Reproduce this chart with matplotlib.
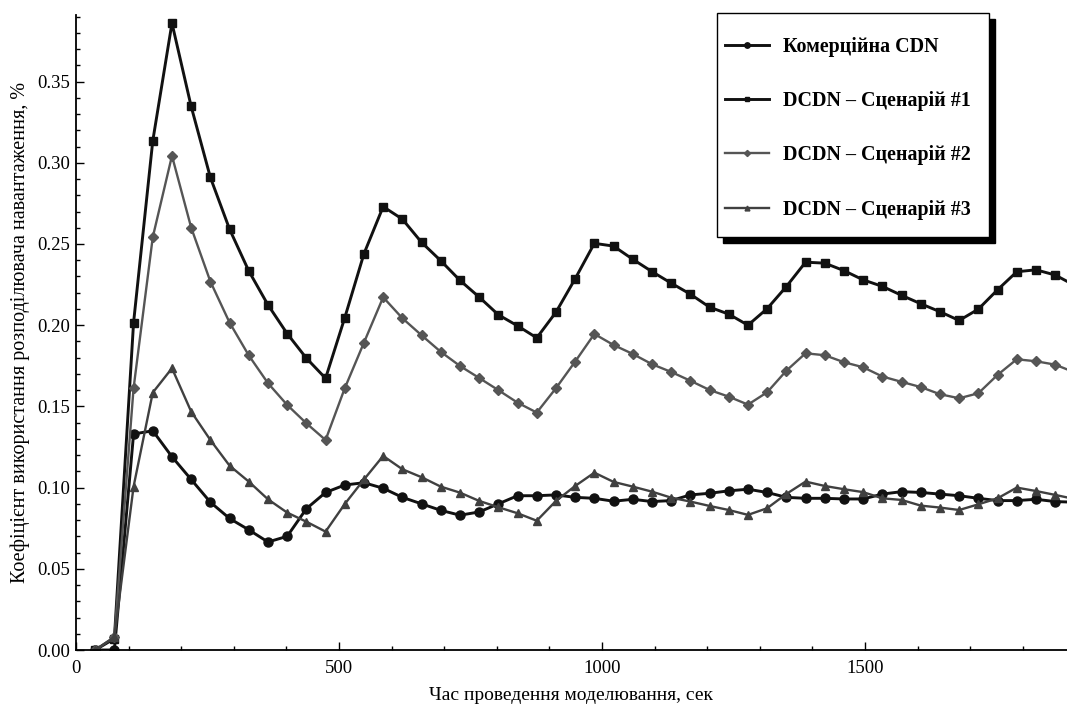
import matplotlib
matplotlib.use("Agg")
import matplotlib.pyplot as plt
import matplotlib.ticker as mticker
from matplotlib.patches import Rectangle

plt.rcParams["font.family"] = ["Liberation Serif", "DejaVu Serif"]

# Data
time_s = [36.5, 73, 109.5, 146, 182.5, 219, 255.5, 292, 328.5, 365,
          401.5, 438, 474.5, 511, 547.5, 584, 620.5, 657, 693.5, 730,
          766.5, 803, 839.5, 876, 912.5, 949, 985.5, 1022, 1058.5, 1095,
          1131.5, 1168, 1204.5, 1241, 1277.5, 1314, 1350.5, 1387, 1423.5, 1460,
          1496.5, 1533, 1569.5, 1606, 1642.5, 1679, 1715.5, 1752, 1788.5, 1825,
          1861.5, 1898]

cdn = [0.0, 0.0, 0.133, 0.135, 0.119, 0.105, 0.091, 0.081, 0.074, 0.0665,
       0.070, 0.087, 0.097, 0.1016, 0.103, 0.0996, 0.094, 0.090, 0.086, 0.083,
       0.085, 0.090, 0.095, 0.095, 0.0955, 0.094, 0.0934, 0.0916, 0.0928, 0.0914,
       0.092, 0.0955, 0.0965, 0.098, 0.099, 0.097, 0.094, 0.0934, 0.0934, 0.093,
       0.093, 0.096, 0.0975, 0.097, 0.096, 0.095, 0.0934, 0.092, 0.092, 0.0928,
       0.0914, 0.091]

scen1 = [0.0, 0.007, 0.2016, 0.3135, 0.386, 0.3347, 0.291, 0.2591, 0.2334, 0.2125,
         0.1948, 0.1797, 0.1673, 0.2046, 0.244, 0.273, 0.2653, 0.251, 0.2397, 0.2276,
         0.2173, 0.2064, 0.1996, 0.1922, 0.208, 0.2286, 0.2504, 0.2487, 0.2406, 0.233,
         0.2259, 0.2191, 0.2111, 0.2068, 0.200, 0.2102, 0.2238, 0.2388, 0.2382, 0.2336,
         0.2279, 0.2239, 0.2184, 0.2132, 0.2083, 0.2029, 0.2099, 0.2218, 0.2329, 0.2341,
         0.2309, 0.2246]

scen2 = [0.0, 0.008, 0.1612, 0.2542, 0.3043, 0.2601, 0.2269, 0.2016, 0.1814, 0.1643,
         0.1509, 0.1396, 0.1293, 0.1612, 0.1893, 0.2172, 0.2043, 0.1938, 0.1836, 0.1749,
         0.1675, 0.160, 0.1523, 0.1462, 0.1612, 0.1776, 0.1946, 0.1878, 0.1823, 0.176,
         0.1712, 0.1658, 0.1601, 0.156, 0.1511, 0.1587, 0.172, 0.1827, 0.1815, 0.1772,
         0.1741, 0.1684, 0.1651, 0.1619, 0.1575, 0.155, 0.1581, 0.1694, 0.179, 0.1778,
         0.1757, 0.171]

scen3 = [0.0, 0.008, 0.1006, 0.1585, 0.1735, 0.1468, 0.1293, 0.1135, 0.1037, 0.0928,
         0.0846, 0.079, 0.0729, 0.0899, 0.105, 0.1195, 0.1113, 0.1064, 0.1006, 0.0969,
         0.0918, 0.0879, 0.0842, 0.0796, 0.0918, 0.101, 0.1092, 0.1035, 0.1006, 0.0975,
         0.0938, 0.0914, 0.0887, 0.0862, 0.0832, 0.0873, 0.0961, 0.1037, 0.101, 0.099,
         0.0972, 0.0934, 0.0924, 0.0889, 0.0877, 0.0862, 0.0897, 0.0934, 0.100, 0.0979,
         0.0955, 0.093]

labels = ["Комерційна CDN", "DCDN – Сценарій #1", "DCDN – Сценарій #2", "DCDN – Сценарій #3"]

fig = plt.figure(figsize=(10.67, 7.04), dpi=100)
ax = fig.add_axes([0.0712, 0.0767, 0.9288, 0.902])

# series: values, marker, colour, line width, marker size
styles = [
    (cdn, "o", "#111111", 2.1, 6.5),
    (scen1, "s", "#111111", 2.1, 5.8),
    (scen2, "D", "#555555", 1.7, 5.2),
    (scen3, "^", "#404040", 1.7, 5.8),
]
handles = []
for (vals, mk, col, lw, ms), lab in zip(styles, labels):
    h, = ax.plot(time_s, vals, marker=mk, color=col, lw=lw, ms=ms,
                 mec=col, mfc=col, label=lab)
    handles.append(h)

ax.set_xlim(0, 1884)
ax.set_ylim(0, 0.391)

ax.xaxis.set_major_locator(mticker.MultipleLocator(500))
ax.xaxis.set_minor_locator(mticker.MultipleLocator(100))
ax.yaxis.set_major_locator(mticker.MultipleLocator(0.05))
ax.yaxis.set_minor_locator(mticker.MultipleLocator(0.01))
ax.yaxis.set_major_formatter(mticker.FormatStrFormatter("%.2f"))

for s in ["top", "right"]:
    ax.spines[s].set_visible(False)
for s in ["left", "bottom"]:
    ax.spines[s].set_linewidth(1.3)

ax.tick_params(which="both", direction="in", top=False, right=False,
               labelsize=13.5, width=1.0)
ax.tick_params(which="major", length=6)
ax.tick_params(which="minor", length=3)
ax.tick_params(axis="y", pad=4)
ax.tick_params(axis="x", pad=7)

ax.set_ylabel("Коефіцієнт використання розподілювача навантаження, %", fontsize=14.5)
ax.set_xlabel("Час проведення моделювання, сек", fontsize=14)
ax.yaxis.set_label_coords(-0.046, 0.5)
ax.xaxis.set_label_coords(0.5, -0.058)

# legend box with solid shadow
bx0, by0, bx1, by1 = 0.6468, 0.6504, 0.9213, 1.0031
sdx, sdy = 6 / 991, 6 / 635
ax.add_patch(Rectangle((bx0 + sdx, by0 - sdy), bx1 - bx0, by1 - by0,
                       transform=ax.transAxes, facecolor="black",
                       edgecolor="black", clip_on=False, zorder=6))
ax.add_patch(Rectangle((bx0, by0), bx1 - bx0, by1 - by0,
                       transform=ax.transAxes, facecolor="white",
                       edgecolor="black", lw=1.0, clip_on=False, zorder=7))

leg = ax.legend(handles=handles, loc="upper left",
                bbox_to_anchor=(0.6549, 0.966), frameon=False,
                prop={"weight": "bold", "size": 14.4}, borderpad=0,
                borderaxespad=0, handlelength=2.2, handletextpad=0.7,
                labelspacing=1.72, markerscale=0.6)
leg.set_zorder(8)

fig.savefig("out.png", dpi=100)
